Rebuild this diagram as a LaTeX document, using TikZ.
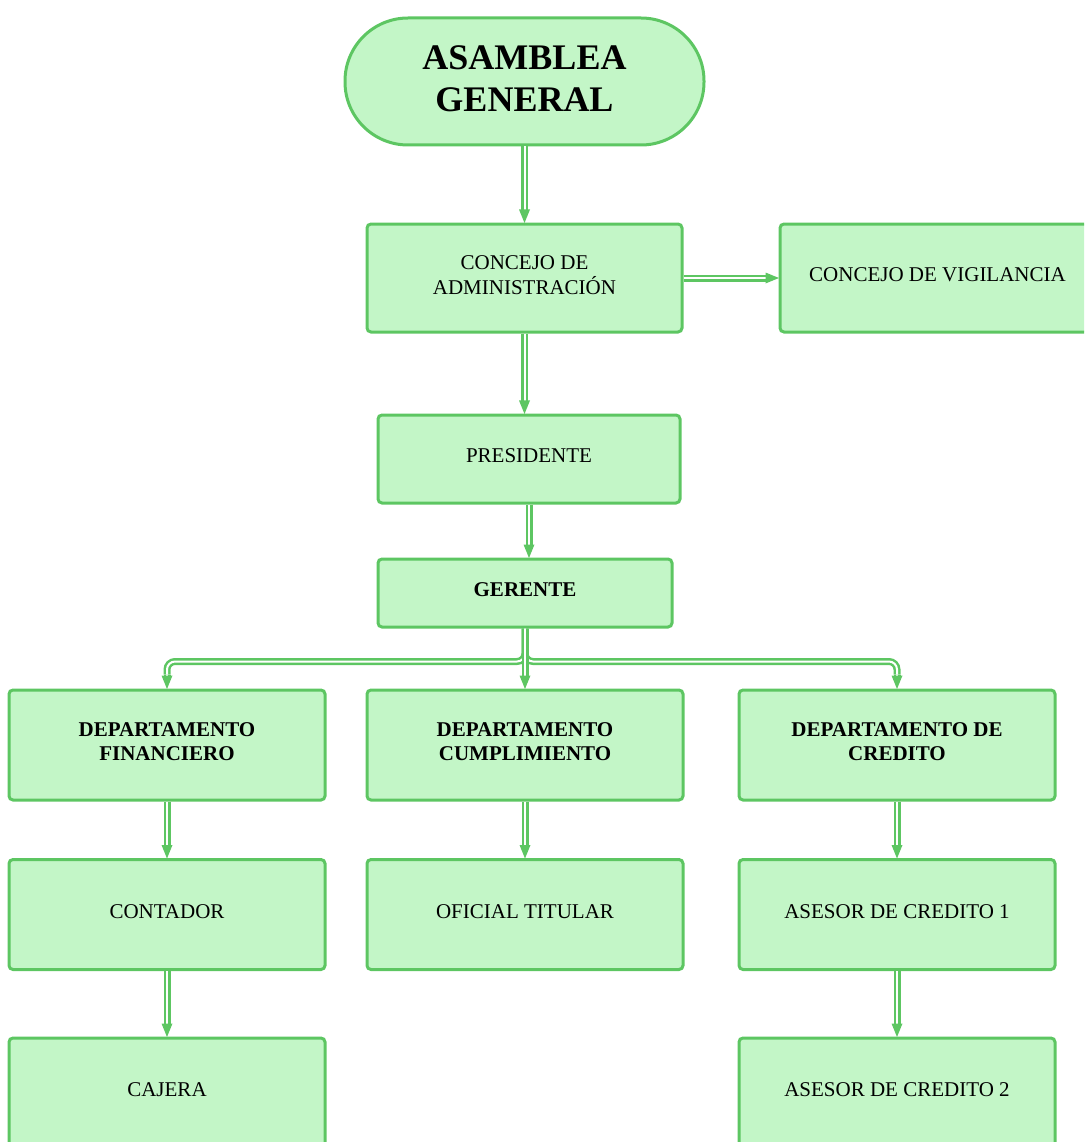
\documentclass[tikz,border=0pt]{standalone}
\usepackage{fontspec}
\setmainfont{Liberation Serif}
\usepackage{tikz}
\usetikzlibrary{decorations.markings}
\usetikzlibrary{positioning}
\definecolor{mgreen}{RGB}{93,198,98}
\definecolor{lgreen}{RGB}{195,246,199}
\tikzset{box/.style = {draw=mgreen, fill=lgreen, line width=3pt, rounded corners=4pt,
                       align=center, inner sep=0, minimum width=316pt, minimum height=110pt,
                       text depth=6pt, font=\fontsize{21}{25}\selectfont}}
\tikzset{bbox/.style = {box, font=\bfseries\fontsize{21}{24}\selectfont}}
\tikzset{dline/.style = {draw=mgreen, double=white, double distance=2pt, line width=2.5pt}}
\tikzset{dbl/.style = {dline, shorten >=9pt,
                       decoration={markings,
                                   mark=at position 0.9999 with {\fill [mgreen] (0.5pt, 0) -- (-13pt, 5.5pt) -- (-13pt, -5.5pt) -- cycle;}},
                       postaction={decorate}}}

\begin{document}
\begin{tikzpicture}[x=1pt, y=-1pt]
      \useasboundingbox (0, 0) rectangle (1084, 1142);
      \clip (0, 0) rectangle (1084, 1142);

      \node [box, rounded corners=63pt, minimum width=359pt, minimum height=127pt,
             font=\bfseries\fontsize{36}{42}\selectfont] (asm) at (524.5, 81.5) {ASAMBLEA\\GENERAL};
      \node [box, minimum width=315pt, minimum height=108pt] (adm) at (524.5, 278) {CONCEJO DE\\ADMINISTRACIÓN};
      \node [box, minimum width=315pt, minimum height=108pt] (vig) at (937.5, 278) {CONCEJO DE VIGILANCIA};
      \node [box, minimum width=302pt, minimum height=88pt] (pres) at (529, 459) {PRESIDENTE};
      \node [bbox, minimum width=294pt, minimum height=68pt] (ger) at (525, 593) {GERENTE};

      \node [bbox] (fin) at (167, 745) {DEPARTAMENTO\\FINANCIERO};
      \node [bbox] (cum) at (525, 745) {DEPARTAMENTO\\CUMPLIMIENTO};
      \node [bbox] (cre) at (897, 745) {DEPARTAMENTO DE\\CREDITO};

      \node [box] (cont) at (167, 914.5) {CONTADOR};
      \node [box] (ofi) at (525, 914.5) {OFICIAL TITULAR};
      \node [box] (ase1) at (897, 914.5) {ASESOR DE CREDITO 1};

      \node [box] (caj) at (167, 1093) {CAJERA};
      \node [box] (ase2) at (897, 1093) {ASESOR DE CREDITO 2};

      \coordinate (finin) at ([yshift=14pt] fin.north);
      \coordinate (crein) at ([yshift=14pt] cre.north);

      \draw [dbl] (asm.south) -- (adm.north);
      \draw [dbl] (adm.east) -- (vig.west);
      \draw [dbl] (adm.south) -- (adm.south |- pres.north);
      \draw [dbl] (pres.south) -- (pres.south |- ger.north);

      \draw [dline, rounded corners=8pt] (ger.south) -- ++(0, 33) -| (finin);
      \draw [dline, rounded corners=8pt] (ger.south) -- ++(0, 33) -| (crein);
      \draw [dbl] (finin) -- (fin.north);
      \draw [dbl] (crein) -- (cre.north);
      \draw [dbl] (ger.south) -- (cum.north);

      \draw [dbl] (fin.south) -- (cont.north);
      \draw [dbl] (cum.south) -- (ofi.north);
      \draw [dbl] (cre.south) -- (ase1.north);
      \draw [dbl] (cont.south) -- (caj.north);
      \draw [dbl] (ase1.south) -- (ase2.north);
    \end{tikzpicture}
\end{document}
